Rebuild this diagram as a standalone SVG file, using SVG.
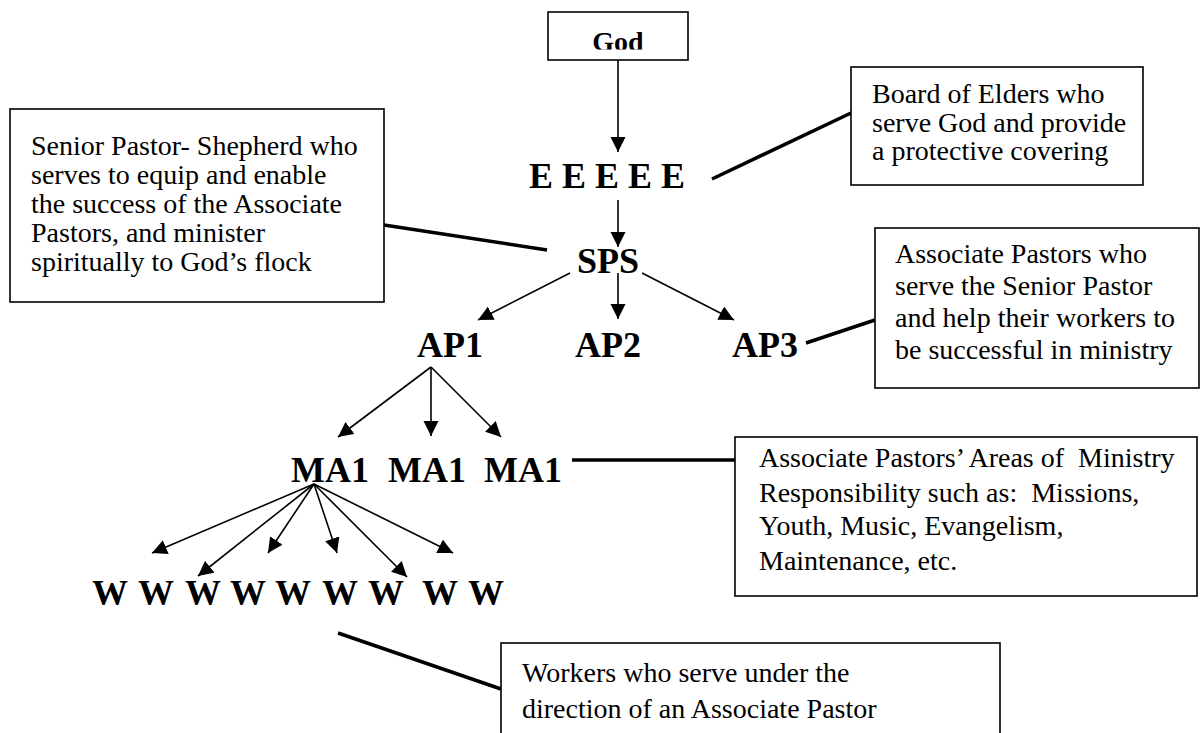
<svg xmlns="http://www.w3.org/2000/svg" width="1202" height="733" viewBox="0 0 1202 733">
<defs>
<style>
.box{fill:#fff;stroke:#000;stroke-width:1.6}
.t{font-family:"Liberation Serif","Times New Roman",serif;font-size:28px;fill:#000}
.b{font-family:"Liberation Serif","Times New Roman",serif;font-size:36px;font-weight:bold;fill:#000}
.arr{stroke:#000;stroke-width:1.6;fill:none;marker-end:url(#ah)}
.call{stroke:#000;stroke-width:3.5;fill:none}
</style>
<marker id="ah" markerUnits="userSpaceOnUse" markerWidth="16" markerHeight="16" refX="15" refY="7.5" orient="auto">
<path d="M0,0 L15,7.5 L0,15 z" fill="#000"/>
</marker>
<clipPath id="godclip"><rect x="548" y="12" width="140" height="37.5"/></clipPath>
</defs>
<rect width="1202" height="733" fill="#fff"/>
<g id="connectors">
<line class="arr" x1="618" y1="60" x2="618" y2="152"/>
<line class="arr" x1="618" y1="200" x2="618" y2="247"/>
<line class="arr" x1="570" y1="273" x2="478" y2="320"/>
<line class="arr" x1="618" y1="273" x2="618" y2="319"/>
<line class="arr" x1="642" y1="273" x2="734" y2="320"/>
<line class="arr" x1="431" y1="367" x2="338" y2="437"/>
<line class="arr" x1="431" y1="367" x2="431" y2="436"/>
<line class="arr" x1="431" y1="367" x2="501" y2="437"/>
<line class="arr" x1="314" y1="484" x2="152" y2="553"/>
<line class="arr" x1="314" y1="484" x2="198" y2="576"/>
<line class="arr" x1="314" y1="484" x2="268" y2="553"/>
<line class="arr" x1="314" y1="484" x2="337" y2="553"/>
<line class="arr" x1="314" y1="484" x2="407" y2="577"/>
<line class="arr" x1="314" y1="484" x2="453" y2="553"/>
<line class="call" x1="712" y1="179" x2="851" y2="113"/>
<line class="call" x1="384" y1="225" x2="547" y2="250"/>
<line class="call" x1="806" y1="343" x2="875" y2="320"/>
<line class="call" x1="572" y1="460" x2="735" y2="460"/>
<line class="call" x1="338" y1="633" x2="501" y2="689"/>
</g>
<g id="god">
<rect class="box" x="548" y="12" width="140" height="48"/>
<text class="b" x="618" y="51" text-anchor="middle" style="font-size:28px" clip-path="url(#godclip)">God</text>
</g>
<g id="elders">
<text class="b" x="529" y="188">E E E E E</text>
</g>
<g id="sps">
<text class="b" x="577" y="273">SPS</text>
</g>
<g id="ap1"><text class="b" x="417" y="357">AP1</text></g>
<g id="ap2"><text class="b" x="575" y="357">AP2</text></g>
<g id="ap3"><text class="b" x="732" y="357">AP3</text></g>
<g id="ma1a"><text class="b" x="291" y="482">MA1</text></g>
<g id="ma1b"><text class="b" x="388" y="482">MA1</text></g>
<g id="ma1c"><text class="b" x="484" y="482">MA1</text></g>
<g id="workers">
<text class="b" y="605"><tspan x="92">W</tspan> <tspan x="138">W</tspan> <tspan x="185">W</tspan> <tspan x="230">W</tspan> <tspan x="275">W</tspan> <tspan x="322">W</tspan> <tspan x="368">W</tspan>  <tspan x="422">W</tspan> <tspan x="468">W</tspan></text>
</g>
<g id="note-elders">
<rect class="box" x="851" y="67" width="292" height="118"/>
<text class="t" x="872" y="103">Board of Elders who</text>
<text class="t" x="872" y="131.5">serve God and provide</text>
<text class="t" x="872" y="160">a protective covering</text>
</g>
<g id="note-sp">
<rect class="box" x="10" y="109" width="374" height="193"/>
<text class="t" x="31" y="155">Senior Pastor- Shepherd who</text>
<text class="t" x="31" y="184">serves to equip and enable</text>
<text class="t" x="31" y="213">the success of the Associate</text>
<text class="t" x="31" y="242">Pastors, and minister</text>
<text class="t" x="31" y="271">spiritually to God’s flock</text>
</g>
<g id="note-ap">
<rect class="box" x="875" y="228" width="324" height="160"/>
<text class="t" x="895" y="263">Associate Pastors who</text>
<text class="t" x="895" y="295">serve the Senior Pastor</text>
<text class="t" x="895" y="327">and help their workers to</text>
<text class="t" x="895" y="359">be successful in ministry</text>
</g>
<g id="note-ma">
<rect class="box" x="735" y="437" width="462" height="159"/>
<text class="t" x="759" y="467" xml:space="preserve">Associate Pastors’ Areas of  Ministry</text>
<text class="t" x="759" y="501.5" xml:space="preserve">Responsibility such as:  Missions,</text>
<text class="t" x="759" y="535">Youth, Music, Evangelism,</text>
<text class="t" x="759" y="570">Maintenance, etc.</text>
</g>
<g id="note-workers">
<rect class="box" x="501" y="643" width="499" height="100"/>
<text class="t" x="522" y="682">Workers who serve under the</text>
<text class="t" x="522" y="718">direction of an Associate Pastor</text>
</g>
</svg>
